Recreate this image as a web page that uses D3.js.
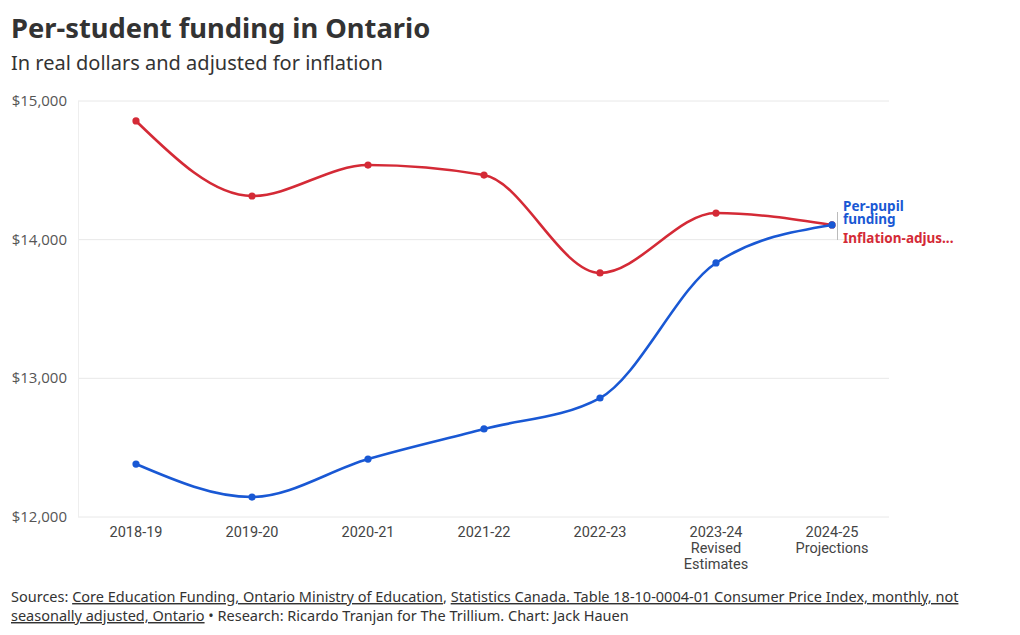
<!DOCTYPE html>
<html>
<head>
<meta charset="utf-8">
<script src="https://cdn.jsdelivr.net/npm/d3@7"></script>
<style>
  body { margin: 0; background: #fff; font-family: "Noto Sans", "Open Sans", sans-serif; }
  .cond { font-family: "Roboto", "Liberation Sans", sans-serif; }
</style>
</head>
<body>
<svg id="chart"></svg>
<script>
// chart data
var years = ["2018-19", "2019-20", "2020-21", "2021-22", "2022-23", "2023-24", "2024-25"];
var yearNotes = ["", "", "", "", "", "Revised\nEstimates", "Projections"];
var perPupil = [12382, 12144, 12418, 12635, 12858, 13832, 14106];
var inflationAdj = [14856, 14315, 14538, 14466, 13760, 14192, 14106];
var yTicks = [12000, 13000, 14000, 15000];

const W = 1020, H = 635;
var svg = d3.select("#chart").attr("width", W).attr("height", H);

var x = d3.scalePoint().domain(years).range([78, 890]).padding(0.5);
var y = d3.scaleLinear().domain([12000, 15000]).range([517, 101]);

// title
svg.append("text").attr("x", 11).attr("y", 38)
  .attr("font-size", 27.3).attr("font-weight", 700).attr("fill", "#333")
  .text("Per-student funding in Ontario");
svg.append("text").attr("x", 11).attr("y", 70)
  .attr("font-size", 20).attr("fill", "#333")
  .text("In real dollars and adjusted for inflation");

// grid
svg.append("g").selectAll("line").data(yTicks).enter().append("line")
  .attr("x1", 78).attr("x2", 889)
  .attr("y1", d => y(d)).attr("y2", d => y(d))
  .attr("stroke", "#e8e8e8").attr("stroke-width", 1);
svg.append("line").attr("x1", 78.5).attr("x2", 78.5).attr("y1", 101).attr("y2", 517)
  .attr("stroke", "#eeeeee");

// y labels
svg.append("g").selectAll("text").data(yTicks).enter().append("text")
  .attr("x", 67).attr("y", d => y(d) + 5)
  .attr("text-anchor", "end").attr("font-size", 15).attr("fill", "#555")
  .attr("font-family", "Open Sans, Noto Sans, sans-serif")
  .text(d => d3.format("$,")(d));

// x labels
var xl = svg.append("g").selectAll("text").data(years).enter().append("text")
  .attr("class", "cond")
  .attr("x", d => x(d)).attr("y", 537)
  .attr("text-anchor", "middle").attr("font-size", 14.5).attr("fill", "#444");
xl.each(function(d, i) {
  var t = d3.select(this);
  var lines = [d].concat(yearNotes[i] ? yearNotes[i].split("\n") : []);
  lines.forEach(function(s, j) {
    t.append("tspan").attr("x", x(d)).attr("dy", j === 0 ? 0 : 16).text(s);
  });
});

// lines
var series = [
  { name: "inflation", values: inflationAdj, color: "#d42a36" },
  { name: "perPupil", values: perPupil, color: "#1958d4" }
];
var line = d3.line().x((d, i) => x(years[i])).y(d => y(d)).curve(d3.curveMonotoneX);

series.forEach(function(s) {
  svg.append("path").datum(s.values)
    .attr("d", line).attr("fill", "none")
    .attr("stroke", s.color).attr("stroke-width", 2.6);
  svg.append("g").selectAll("circle").data(s.values).enter().append("circle")
    .attr("cx", (d, i) => x(years[i])).attr("cy", d => y(d))
    .attr("r", 3.6).attr("fill", s.color);
});

// end labels
var lastX = x(years[years.length - 1]);
svg.append("line").attr("x1", lastX + 5.5).attr("x2", lastX + 5.5)
  .attr("y1", 212).attr("y2", 240).attr("stroke", "#bbb");
var lab = svg.append("g").attr("font-size", 13.5).attr("font-weight", 700)
  .attr("font-family", "Noto Sans, sans-serif");
var pp = lab.append("text").attr("x", lastX + 11).attr("y", 211).attr("fill", "#1958d4");
pp.append("tspan").attr("x", lastX + 11).text("Per-pupil");
pp.append("tspan").attr("x", lastX + 11).attr("dy", 12.5).text("funding");
lab.append("text").attr("x", lastX + 11).attr("y", 243).attr("fill", "#d42a36")
  .text("Inflation-adjus...");

// footer
var foot = svg.append("g").attr("font-family", "Noto Sans, sans-serif")
  .attr("font-size", 14.5).attr("fill", "#333");
var f1 = foot.append("text").attr("x", 11).attr("y", 602);
f1.append("tspan").text("Sources: ");
f1.append("tspan").attr("text-decoration", "underline").text("Core Education Funding, Ontario Ministry of Education");
f1.append("tspan").text(", ");
f1.append("tspan").attr("text-decoration", "underline").text("Statistics Canada. Table 18-10-0004-01  Consumer Price Index, monthly, not");
var f2 = foot.append("text").attr("x", 11).attr("y", 621);
f2.append("tspan").attr("text-decoration", "underline").text("seasonally adjusted, Ontario");
f2.append("tspan").text(" \u2022 Research: Ricardo Tranjan for The Trillium. Chart: Jack Hauen");
</script>
</body>
</html>
